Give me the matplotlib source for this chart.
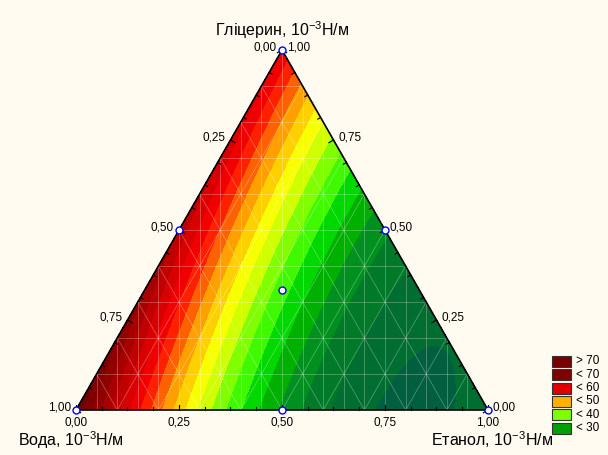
import numpy as np
import matplotlib
matplotlib.use("Agg")
import matplotlib.pyplot as plt
import matplotlib.tri as mtri
from matplotlib.patches import Rectangle

plt.rcParams['font.family'] = ['Liberation Sans', 'DejaVu Sans']
plt.rcParams['mathtext.fontset'] = 'custom'
plt.rcParams['mathtext.rm'] = 'Liberation Sans'
plt.rcParams['mathtext.default'] = 'regular'

# mixture compositions (fractions) and surface tension, 10^-3 N/m
water = [1.0, 0.0, 0.0, 0.5, 0.5, 0.0, 1 / 3]
glycerin = [0.0, 1.0, 0.0, 0.5, 0.0, 0.5, 1 / 3]
ethanol = [0.0, 0.0, 1.0, 0.0, 0.5, 0.5, 1 / 3]
tension = [72.0, 57.0, 24.0, 62.5, 30.0, 28.5, 35.0]

tick_labels = ['0,00', '0,25', '0,50', '0,75', '1,00']
legend_labels = ['> 70', '< 70', '< 60', '< 50', '< 40', '< 30']
legend_colors = ['#7a0000', '#800000', '#e00000', '#ffb000', '#80ff00', '#00a000']

# contour levels and band colours (lowest band first)
levels = np.arange(20, 75, 2.5)
band_colors = ['#005f3f', '#006e30', '#007a28', '#009020', '#00b000', '#00d800',
               '#40f800', '#80ff00', '#d0ff00', '#f8ff00', '#ffd000', '#ffa000',
               '#ff6000', '#ff2000', '#f00000', '#d80000', '#c00000', '#a80000',
               '#900000', '#800000', '#700000']

bg = '#fffbf0'
S3 = np.sqrt(3) / 2


def to_xy(g, e):
    return np.asarray(e) + np.asarray(g) / 2, np.asarray(g) * S3


# quadratic (Scheffe) mixture model fitted to the measured points
w, g, e = map(np.asarray, (water, glycerin, ethanol))
X = np.column_stack([w, g, e, w * g, w * e, g * e])
coef, *_ = np.linalg.lstsq(X, np.asarray(tension), rcond=None)

n = 120
gg, ee = [], []
for i in range(n + 1):
    for j in range(n + 1 - i):
        gg.append(i / n)
        ee.append(j / n)
gg, ee = np.array(gg), np.array(ee)
ww = 1 - gg - ee
Z = np.column_stack([ww, gg, ee, ww * gg, ww * ee, gg * ee]) @ coef
tx, ty = to_xy(gg, ee)
tri = mtri.Triangulation(tx, ty)

fig = plt.figure(figsize=(6.08, 4.55), dpi=100, facecolor=bg)
ax = fig.add_axes([0, 0, 1, 1])
ax.set_facecolor(bg)
ax.set_xlim(-76 / 412, 532 / 412)
ax.set_ylim(-45 / 415.7, 410 / 415.7)
ax.axis('off')

ax.tricontourf(tri, Z, levels=levels, colors=band_colors)

# light mesh lines
mesh = dict(color='white', alpha=0.3, lw=0.6, zorder=3)
for k in range(1, 10):
    t = k / 10
    x0, y0 = to_xy([0, 1 - t], [t, t])
    ax.plot(x0, y0, **mesh)
    x1, y1 = to_xy([0, 1 - t], [1 - t, 0])
    ax.plot(x1, y1, **mesh)
    x2, y2 = to_xy([t, t], [0, 1 - t])
    ax.plot(x2, y2, **mesh)
for k in range(1, 20):
    xv = k / 20
    ax.plot([xv, xv], [0, 2 * min(xv, 1 - xv) * S3], **mesh)

# triangle frame
ax.plot([0, 1, 0.5, 0], [0, 0, S3, 0], color='black', lw=1.2, zorder=5)

# inward ticks
for k in range(17):
    t = k / 16
    L = 0.013 if k % 4 == 0 else 0.008
    ax.plot([t, t], [0, L], color='black', lw=0.8, zorder=5)
    px, py = t / 2, t * S3
    ax.plot([px, px + L * S3], [py, py - L * 0.5], color='black', lw=0.8, zorder=5)
    qx, qy = 1 - t / 2, t * S3
    ax.plot([qx, qx - L * S3], [qy, qy - L * 0.5], color='black', lw=0.8, zorder=5)

# tick labels
off = 0.012
for k, lab in enumerate(tick_labels):
    t = k / 4
    ax.text(t, -0.031, lab, ha='center', va='center', fontsize=8.5)
    # water axis on left edge (1 at bottom-left)
    lx, ly = to_xy(1 - t, 0)
    ax.text(lx - off, ly + 0.005, lab, ha='right', va='center', fontsize=8.5)
    # glycerin axis on right edge (1 at apex)
    rx, ry = to_xy(t, 1 - t)
    ax.text(rx + off, ry + 0.005, lab, ha='left', va='center', fontsize=8.5)

ax.plot(*to_xy(glycerin, ethanol), 'o', ms=5, mfc='white', mec='#0000ff',
        mew=1, ls='none', zorder=6, clip_on=False)

ax.text(0.5, 0.914, 'Гліцерин, 10$^{-3}$Н/м', ha='center', va='center', fontsize=11.5)
ax.text(-0.141, -0.072, 'Вода, 10$^{-3}$Н/м', ha='left', va='center', fontsize=11.5)
ax.text(1.158, -0.072, 'Етанол, 10$^{-3}$Н/м', ha='right', va='center', fontsize=11.5)

# legend
for i, (lab, col) in enumerate(zip(legend_labels, legend_colors)):
    yc = 361.5 + i * 13.3
    fig.patches.append(Rectangle((552 / 608, 1 - (yc + 5.5) / 455), 19 / 608, 11 / 455,
                                 transform=fig.transFigure, facecolor=col,
                                 edgecolor='#333333', lw=0.8))
    fig.text(576 / 608, 1 - yc / 455, lab, ha='left', va='center', fontsize=8.5)

fig.savefig('out.png', dpi=100, facecolor=bg)
